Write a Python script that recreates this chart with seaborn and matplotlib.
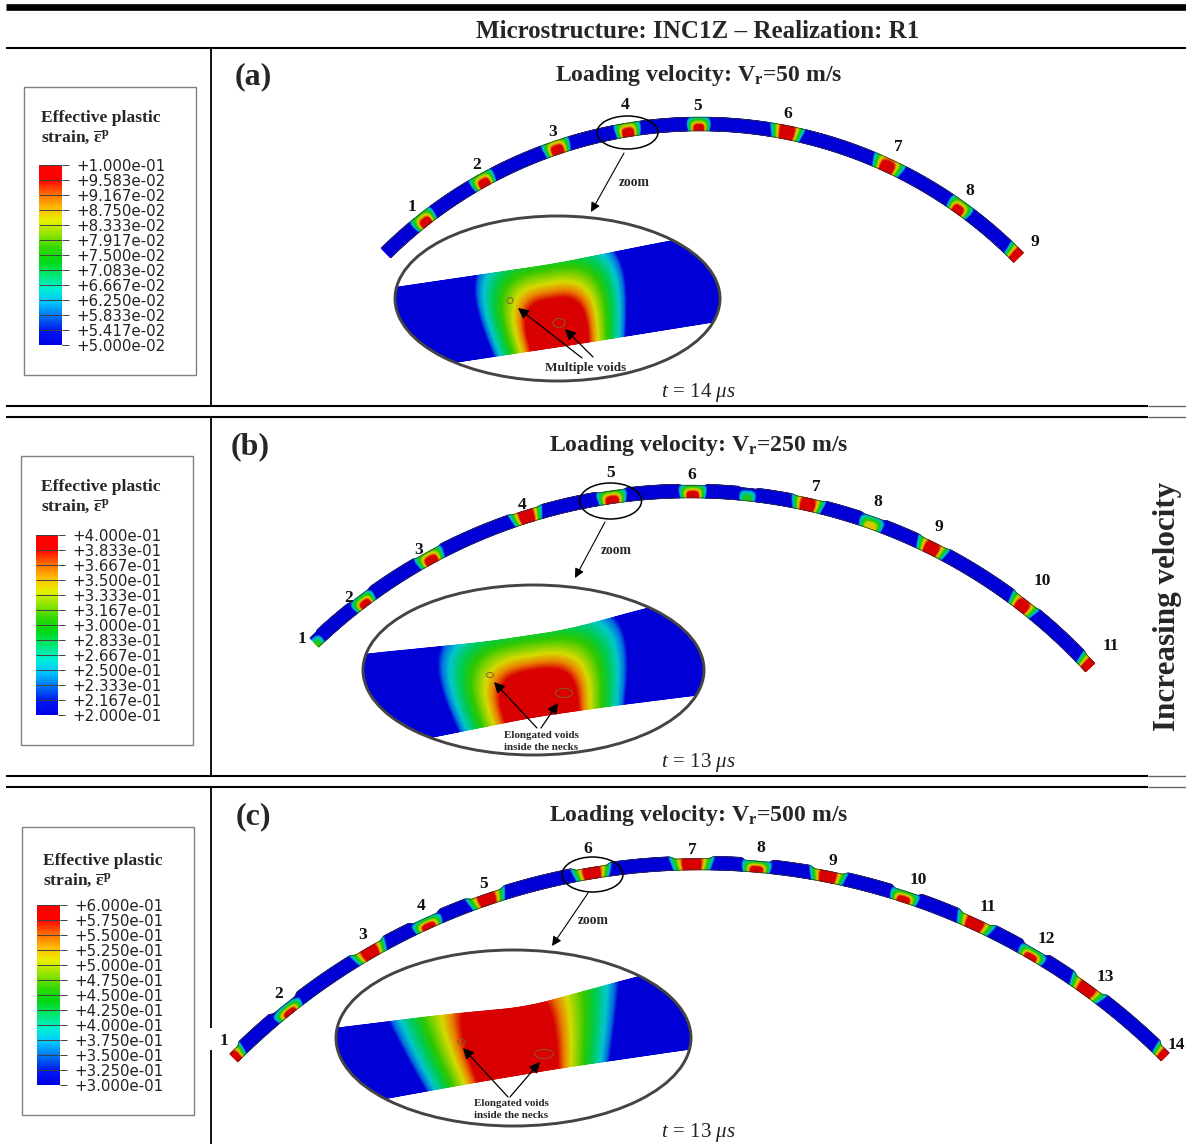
import numpy as np
import matplotlib
matplotlib.use("Agg")
import matplotlib.pyplot as plt
import seaborn as sns
from matplotlib.colors import LinearSegmentedColormap
from matplotlib.patches import Ellipse, Rectangle

# Colour bar labels, top to bottom
legend_a = ["+1.000e-01", "+9.583e-02", "+9.167e-02", "+8.750e-02", "+8.333e-02", "+7.917e-02", "+7.500e-02",
            "+7.083e-02", "+6.667e-02", "+6.250e-02", "+5.833e-02", "+5.417e-02", "+5.000e-02"]
legend_b = ["+4.000e-01", "+3.833e-01", "+3.667e-01", "+3.500e-01", "+3.333e-01", "+3.167e-01", "+3.000e-01",
            "+2.833e-01", "+2.667e-01", "+2.500e-01", "+2.333e-01", "+2.167e-01", "+2.000e-01"]
legend_c = ["+6.000e-01", "+5.750e-01", "+5.500e-01", "+5.250e-01", "+5.000e-01", "+4.750e-01", "+4.500e-01",
            "+4.250e-01", "+4.000e-01", "+3.750e-01", "+3.500e-01", "+3.250e-01", "+3.000e-01"]
legend_colors = ["#0000e8", "#0018f0", "#0070f0", "#00c0ff", "#00f0d8", "#00e878", "#00d818",
                 "#30d800", "#90e400", "#e8f000", "#ffb800", "#ff6800", "#ff0000", "#ff0000"]

# Necks along each ring: x position, half width, dome height, peak strain
a_neck_x = [424, 483, 557, 628, 699, 787, 888, 960, 1018]
a_neck_w = [14, 14, 15, 14, 13, 17, 17, 14, 15]
a_neck_h = [1.4, 1.4, 1.6, 1.5, 1.2, 3.0, 2.0, 1.4, 3.0]
a_neck_p = [1, 1, 1, 1, 1, 1, 1, 1, 1]

b_neck_x = [314, 363, 430, 527, 612, 693, 748, 808, 872, 932, 1023, 1090]
b_neck_w = [11, 14, 16, 17, 16, 15, 10, 17, 14, 17, 16, 15]
b_neck_h = [1.0, 1.2, 1.5, 3.0, 1.4, 1.3, 1.0, 2.5, 1.2, 2.5, 2.2, 3.0]
b_neck_p = [0.5, 1, 1, 1, 1, 1, 0.45, 1, 0.75, 1, 1, 1]

c_neck_x = [233, 287, 370, 427, 487, 592, 692, 757, 828, 905, 975, 1033, 1087, 1166]
c_neck_w = [15, 18, 19, 17, 20, 20, 22, 16, 19, 16, 20, 16, 20, 15]
c_neck_h = [2.5, 1.1, 3.0, 1.2, 3.0, 3.0, 3.0, 1.3, 3.0, 1.3, 3.0, 1.2, 3.0, 3.0]
c_neck_p = [1, 0.95, 1, 1, 1, 1, 1, 1, 1, 1, 1, 1, 1, 1]

# Number labels over the necks
a_label_x = [412, 477, 553, 625, 698, 788, 898, 970, 1035]
a_label_y = [206, 164, 131, 104, 105, 113, 146, 190, 241]
b_label_x = [302, 349, 419, 522, 611, 692, 816, 878, 939, 1042, 1111]
b_label_y = [638, 597, 549, 504, 472, 474, 486, 501, 526, 580, 645]
c_label_x = [224, 279, 363, 421, 484, 588, 692, 761, 833, 918, 988, 1046, 1105, 1176]
c_label_y = [1040, 993, 934, 905, 883, 848, 849, 847, 860, 879, 906, 938, 976, 1044]

velocities = [50, 250, 500]
times = [14, 13, 13]

field_cmap = LinearSegmentedColormap.from_list("field", [
    (0.0, "#0000d6"), (0.04, "#0000d6"), (0.1, "#0070e0"), (0.2, "#00c8d0"), (0.36, "#00cc50"),
    (0.5, "#30c800"), (0.72, "#d8dc00"), (0.84, "#ec8000"), (0.95, "#d80000"), (1.0, "#d80000")])

SERIF = "Liberation Serif"


def neck_field(du, v, half_w, dome, peak=1.0):
    """Strain around one neck: a squarish dome sitting on the inner edge of the ring."""
    x = np.abs(du) / (half_w * (0.88 + 0.24 * v))
    d = (x ** 3 + (v / dome) ** 3) ** (1 / 3)
    return np.clip((1 - d) * 1.65, 0, 1) * peak


def draw_ring(ax, left, top, right, neck_x, neck_w, neck_h, neck_p, thin):
    """Draw one ring as a circular strip through three centreline points."""
    cx = top[0]
    half = (right[0] - left[0]) / 2
    sag = (left[1] + right[1]) / 2 - top[1]
    radius = (half ** 2 + sag ** 2) / (2 * sag)
    cy = top[1] + radius
    th0 = np.arcsin((left[0] - cx) / radius)
    th1 = np.arcsin((right[0] - cx) / radius)
    th, v = np.meshgrid(np.linspace(th0, th1, 1600), np.linspace(0, 1, 15))
    u = radius * th

    field = np.zeros_like(u)
    squeeze = np.zeros_like(u)
    for x0, w, h, p in zip(neck_x, neck_w, neck_h, neck_p):
        uc = radius * np.arcsin(np.clip((x0 - cx) / radius, -1, 1))
        field = np.maximum(field, neck_field(u - uc, v, w, h, p))
        squeeze = np.maximum(squeeze, np.clip((1 - np.abs(u - uc) / w) * 4, 0, 1))

    thick = 13.5 * (1 - thin * squeeze)
    r = radius - 6.75 + thick * v
    xs = cx + r * np.sin(th)
    ys = cy - r * np.cos(th)
    ax.pcolormesh(xs, ys, field, cmap=field_cmap, vmin=0, vmax=1, shading="gouraud", zorder=2)
    ax.plot(xs[0], ys[0], color="#333333", lw=0.5, zorder=3)
    ax.plot(xs[-1], ys[-1], color="#333333", lw=0.5, zorder=3)


def smooth(values):
    return np.convolve(np.pad(values, 30, mode="edge"), np.ones(61) / 61, mode="valid")


def draw_zoom(ax, center, size, top_x, top_y, bot_x, bot_y, x_neck, half_w, dome, voids):
    """Draw the enlarged neck clipped by its ellipse."""
    ring = Ellipse(center, size[0], size[1], fc="none", ec="#444444", lw=2.1, zorder=5)
    ax.add_patch(ring)
    # iso-strain lines lean a little, the lower edge is shifted against the upper one
    tx = np.linspace(center[0] - size[0] / 2 - 30, center[0] + size[0] / 2 + 30, 500)
    bx = tx + 14
    ty = smooth(np.interp(tx, top_x, top_y))
    by = smooth(np.interp(bx, bot_x, bot_y))
    v = np.linspace(0, 1, 80)[:, None]
    xs = bx + (tx - bx) * v
    ys = by + (ty - by) * v
    field = neck_field((tx + bx) / 2 - x_neck, v, half_w, dome)
    mesh = ax.pcolormesh(xs, ys, field, cmap=field_cmap, vmin=0, vmax=1, shading="gouraud", zorder=4)
    mesh.set_clip_path(ring)
    for vx, vy, vw, vh in voids:
        ax.add_patch(Ellipse((vx, vy), vw, vh, fc="none", ec="#8a5a30", lw=0.7, zorder=6))


def arrow(ax, tail, head, width=0.8, head_size=14):
    ax.annotate("", xy=head, xytext=tail, zorder=7,
                arrowprops=dict(arrowstyle="-|>", color="black", lw=width, mutation_scale=head_size,
                                shrinkA=0, shrinkB=0))


def draw_legend(fig, ax, box, bar, labels, title_xy):
    """Colour bar in its grey frame, the bar itself is a seaborn heatmap."""
    ax.add_patch(Rectangle((box[0], box[1]), box[2] - box[0], box[3] - box[1], fc="white", ec="#808080", lw=1.0))
    cax = fig.add_axes([bar[0] / 1186, 1 - bar[3] / 1144, (bar[2] - bar[0]) / 1186, (bar[3] - bar[1]) / 1144])
    band_cmap = LinearSegmentedColormap.from_list("bands", legend_colors)
    sns.heatmap(np.linspace(1, 0, 180)[:, None], cmap=band_cmap, cbar=False, ax=cax,
                xticklabels=False, yticklabels=False)
    cax.hlines(np.arange(13) * 15, 0, 1, color="#404040", lw=0.7)
    cax.set_yticks(np.arange(13) * 15)
    cax.set_yticklabels(labels, rotation=0, fontsize=10.8, color="#222222", family="DejaVu Sans")
    cax.tick_params(left=False, labelleft=False, right=True, labelright=True, length=5, width=0.7,
                    color="#404040", pad=5.5)
    ax.text(title_xy[0], title_xy[1] + 2, "Effective plastic", family=SERIF, weight="bold", fontsize=12.6, va="center")
    ax.text(title_xy[0], title_xy[1] + 21, r"strain, $\mathbf{\overline{\varepsilon}^{p}}$", family=SERIF,
            weight="bold", fontsize=12.6, va="center")


def main():
    sns.set_theme(style="white")
    plt.rcParams["font.family"] = [SERIF, "DejaVu Sans"]
    plt.rcParams["mathtext.fontset"] = "custom"
    plt.rcParams["mathtext.rm"] = SERIF
    plt.rcParams["mathtext.it"] = SERIF + ":italic"
    plt.rcParams["mathtext.bf"] = SERIF + ":bold"

    fig = plt.figure(figsize=(11.86, 11.44), dpi=100)
    ax = fig.add_axes([0, 0, 1, 1])
    ax.set_xlim(0, 1186)
    ax.set_ylim(1144, 0)
    ax.axis("off")

    # Table rules
    ax.hlines(6.5, 6, 1186, color="black", lw=4.8)
    ax.hlines(48, 6, 1186, color="black", lw=1.5)
    ax.hlines([406, 417, 776, 787], 6, 1148, color="black", lw=1.5)
    ax.hlines([406, 417, 776, 787], 1148, 1186, color="#666666", lw=1.0)
    ax.vlines(211, 48, 406, color="black", lw=1.3)
    ax.vlines(211, 417, 776, color="black", lw=1.3)
    ax.vlines(211, 787, 1028, color="black", lw=1.3)
    ax.vlines(211, 1050, 1144, color="black", lw=1.3)

    ax.text(698, 31, "Microstructure: INC1Z \u2013 Realization: R1", weight="bold", fontsize=18, ha="center", va="center")
    ax.text(1168, 606, "Increasing velocity", weight="bold", fontsize=22.4, rotation=90, ha="center", va="center")

    # Legends
    draw_legend(fig, ax, (24, 87, 196, 375), (39, 165, 62, 345), legend_a, (41, 116))
    draw_legend(fig, ax, (21, 456, 193, 745), (36, 535, 58, 715), legend_b, (41, 485))
    draw_legend(fig, ax, (22, 827, 194, 1115), (37, 905, 60, 1085), legend_c, (43, 859))

    # Panel headings
    for tag, tag_x, y, vel, time, time_y in zip(["(a)", "(b)", "(c)"], [253, 250, 253], [77, 447, 817],
                                                velocities, times, [393, 762, 1132]):
        ax.text(tag_x, y, tag, weight="bold", fontsize=23, ha="center", va="center")
        ax.text(699, y - 2, r"Loading velocity: V$_{\mathbf{r}}$=%d m/s" % vel, weight="bold", fontsize=17.1,
                ha="center", va="center")
        ax.text(698, time_y, r"$t\,=\,%d\ \mu s$" % time, fontsize=15, ha="center", va="center", color="#222222")

    # Rings
    draw_ring(ax, (386, 255.5), (700, 124), (1018.5, 255), a_neck_x, a_neck_w, a_neck_h, a_neck_p, 0.0)
    draw_ring(ax, (314, 654), (690, 491), (1090.5, 654.5), b_neck_x, b_neck_w, b_neck_h, b_neck_p, 0.08)
    draw_ring(ax, (233, 1057), (700, 863), (1166, 1056), c_neck_x, c_neck_w, c_neck_h, c_neck_p, 0.18)

    for xs, ys in [(a_label_x, a_label_y), (b_label_x, b_label_y), (c_label_x, c_label_y)]:
        for i, (x, y) in enumerate(zip(xs, ys)):
            ax.text(x, y + 1, str(i + 1), weight="bold", fontsize=12.5, ha="center", va="center", color="#111111")

    # Small ellipses and the zoom arrows
    for center, w, h in [((627.5, 132.5), 61, 33), ((610.5, 501), 62, 36), ((592.5, 874.5), 61, 35)]:
        ax.add_patch(Ellipse(center, w, h, fc="none", ec="black", lw=1.1, zorder=6))
    arrow(ax, (624, 153), (591, 212))
    arrow(ax, (605, 522), (575, 578))
    arrow(ax, (588, 893), (552, 946))
    for x, y in [(634, 182), (616, 549), (593, 920)]:
        ax.text(x, y + 1, "zoom", weight="bold", fontsize=9.8, ha="center", va="center")

    # Enlarged necks, upper and lower edges
    draw_zoom(ax, (557.5, 298.5), (325, 165), [365, 555, 670, 760], [292, 264, 241, 226],
              [380, 457, 570, 713, 790], [374, 362, 345, 322, 310],
              553, 77, 1.38, [(510, 300.5, 6, 6), (559, 323, 12, 9)])
    draw_zoom(ax, (533.5, 670), (341, 170), [330, 367, 487, 567, 648, 740], [659, 654, 642, 630, 608, 586],
              [340, 433, 533, 610, 697, 760], [756, 737, 717, 706, 695, 688], 535, 97, 1.35,
              [(490, 675, 7, 5), (564, 693, 17, 9)])
    draw_zoom(ax, (513.5, 1038), (355, 176), [305, 338, 443, 527, 637, 720], [1032, 1028, 1015, 1007, 977, 956],
              [320, 388, 477, 560, 690, 760], [1111, 1098, 1082, 1068, 1049, 1040], 511, 107, 3.0,
              [(461.5, 1042, 8, 5), (544, 1054, 19, 9)])

    # Void arrows and notes
    arrow(ax, (582, 358), (518, 308), 0.9, 16)
    arrow(ax, (593, 357), (565, 329), 0.9, 16)
    ax.text(586, 368, "Multiple voids", weight="bold", fontsize=9.5, ha="center", va="center", zorder=8)
    arrow(ax, (537, 728), (494, 682), 0.9, 16)
    arrow(ax, (541, 728), (558, 703), 0.9, 16)
    ax.text(541, 735, "Elongated voids", weight="bold", fontsize=7.9, ha="center", va="center", zorder=8)
    ax.text(541, 747, "inside the necks", weight="bold", fontsize=7.9, ha="center", va="center", zorder=8)
    arrow(ax, (508, 1097), (463, 1048), 0.9, 16)
    arrow(ax, (510, 1097), (540, 1062), 0.9, 16)
    ax.text(511, 1103, "Elongated voids", weight="bold", fontsize=7.9, ha="center", va="center", zorder=8)
    ax.text(511, 1115, "inside the necks", weight="bold", fontsize=7.9, ha="center", va="center", zorder=8)

    fig.savefig("out.png", dpi=100, facecolor="white")


if __name__ == "__main__":
    main()
